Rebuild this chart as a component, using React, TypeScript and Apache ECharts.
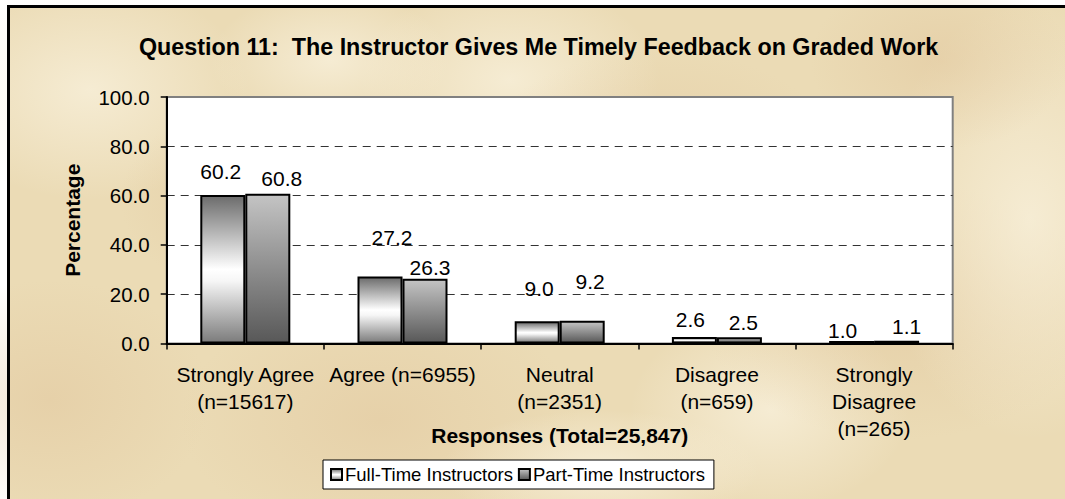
import React, { useEffect, useRef } from "react";
import * as echarts from "echarts";

const chartTitle = "Question 11:  The Instructor Gives Me Timely Feedback on Graded Work";
const categories = [
  "Strongly Agree\n(n=15617)",
  "Agree (n=6955)",
  "Neutral\n(n=2351)",
  "Disagree\n(n=659)",
  "Strongly\nDisagree\n(n=265)",
];
const seriesNames = ["Full-Time Instructors", "Part-Time Instructors"];
const fullTimeValues = [60.2, 27.2, 9.0, 2.6, 1.0];
const partTimeValues = [60.8, 26.3, 9.2, 2.5, 1.1];
const yTicks = { min: 0, max: 100, interval: 20 };
const xAxisTitle = "Responses (Total=25,847)";
const yAxisTitle = "Percentage";

// label nudges (styling only, px) reproducing the original's label placement
const fullTimeLabelNudge = [[-2, -8], [12, -23], [2, -17], [-4, -2], [-9, 5]];
const partTimeLabelNudge = [[14, 0], [5, 4], [8, -24], [4, 1], [10, 1]];

// parchment mottling (decoration only): [cx, cy, rx, ry, light?]
const parchmentSpots = [
  [90, 90, 160, 110, 1],
  [240, 200, 120, 90, 0],
  [380, 420, 200, 120, 0],
  [510, 80, 150, 100, 1],
  [660, 160, 180, 110, 0],
  [770, 410, 140, 100, 1],
  [900, 310, 200, 130, 0],
  [1030, 220, 150, 220, 1],
  [50, 400, 160, 120, 0],
  [940, 60, 130, 90, 0],
  [330, 60, 120, 70, 1],
  [600, 470, 160, 60, 1],
];

const ftGradient = new echarts.graphic.LinearGradient(0, 0, 0, 1, [
  { offset: 0, color: "#6c6c6c" },
  { offset: 0.5, color: "#ffffff" },
  { offset: 0.58, color: "#f6f6f6" },
  { offset: 1, color: "#7c7c7c" },
]);
const ptGradient = new echarts.graphic.LinearGradient(0, 0, 0, 1, [
  { offset: 0, color: "#c4c4c4" },
  { offset: 1, color: "#585858" },
]);

export default function App() {
  const ref = useRef<HTMLDivElement>(null);
  useEffect(() => {
    document.documentElement.style.overflow = "hidden";
    document.body.style.overflow = "hidden";
    if (!ref.current) return;
    const chart = echarts.init(ref.current, undefined, { renderer: "svg" });
    const font = "Arial, 'Liberation Sans', sans-serif";
    const mkData = (vals: number[], nudge: number[][]) =>
      vals.map((v, i) => ({ value: v, label: { offset: nudge[i] } }));
    const labelStyle = {
      show: true,
      position: "top",
      distance: 5,
      fontFamily: font,
      fontSize: 21,
      color: "#000",
      formatter: (p: any) => Number(p.value).toFixed(1),
    };
    const spots = parchmentSpots.map(([cx, cy, rx, ry, light]) => ({
      type: "ellipse",
      z: -10,
      silent: true,
      shape: { cx, cy, rx, ry },
      style: {
        fill: new echarts.graphic.RadialGradient(0.5, 0.5, 0.5, [
          { offset: 0, color: light ? "rgba(250,243,224,0.7)" : "rgba(224,196,154,0.45)" },
          { offset: 1, color: light ? "rgba(250,243,224,0)" : "rgba(224,196,154,0)" },
        ]),
      },
    }));
    chart.setOption({
      animation: false,
      backgroundColor: "#ffffff",
      textStyle: { fontFamily: font, color: "#000" },
      graphic: {
        elements: [
          {
            type: "rect",
            z: -11,
            silent: true,
            shape: { x: 7, y: 5, width: 1058, height: 494 },
            style: { fill: "#ebdbb5" },
          },
          ...spots,
          {
            type: "rect",
            z: -9,
            silent: true,
            shape: { x: 7, y: 5, width: 1058, height: 3 },
            style: { fill: "#000" },
          },
          {
            type: "rect",
            z: -9,
            silent: true,
            shape: { x: 7, y: 5, width: 3, height: 494 },
            style: { fill: "#000" },
          },
        ],
      },
      title: {
        text: chartTitle,
        left: 139,
        top: 35,
        padding: 0,
        textStyle: { fontFamily: font, fontSize: 23.3, fontWeight: "bold", color: "#000" },
      },
      legend: {
        data: seriesNames,
        left: 323,
        top: 460,
        padding: [5, 9, 5, 7],
        itemWidth: 11,
        itemHeight: 11,
        itemGap: 5,
        icon: "rect",
        backgroundColor: "#fff",
        borderColor: "#000",
        borderWidth: 1,
        borderRadius: 0,
        itemStyle: { borderColor: "#000", borderWidth: 2 },
        textStyle: { fontFamily: font, fontSize: 18.5, color: "#000", padding: [0, 0, 0, -2] },
      },
      grid: {
        left: 166.7,
        right: 112.3,
        top: 97,
        bottom: 155.5,
        show: true,
        backgroundColor: "#fff",
        borderColor: "#808080",
        borderWidth: 2,
      },
      xAxis: {
        type: "category",
        data: categories,
        name: xAxisTitle,
        nameLocation: "middle",
        nameGap: 81,
        nameMoveOverlap: false,
        nameTextStyle: { fontFamily: font, fontSize: 21, fontWeight: "bold", color: "#000" },
        axisLine: { lineStyle: { color: "#000", width: 2 } },
        axisTick: { show: true, length: 6, interval: 0, lineStyle: { color: "#000", width: 1.5 } },
        axisLabel: {
          interval: 0,
          margin: 17,
          fontFamily: font,
          fontSize: 21,
          lineHeight: 27,
          color: "#000",
        },
      },
      yAxis: {
        type: "value",
        min: yTicks.min,
        max: yTicks.max,
        interval: yTicks.interval,
        name: yAxisTitle,
        nameLocation: "middle",
        nameGap: 84,
        nameRotate: 90,
        nameMoveOverlap: false,
        nameTextStyle: { fontFamily: font, fontSize: 21, fontWeight: "bold", color: "#000" },
        axisLine: { show: true, lineStyle: { color: "#000", width: 2 } },
        axisTick: { show: true, length: 6, lineStyle: { color: "#000", width: 1.5 } },
        axisLabel: {
          margin: 17,
          fontFamily: font,
          fontSize: 20.5,
          color: "#000",
          formatter: (v: number) => v.toFixed(1),
        },
        splitLine: {
          show: true,
          showMaxLine: false,
          lineStyle: { color: "#333", type: [8, 6], width: 1 },
        },
      },
      series: [
        {
          name: seriesNames[0],
          type: "bar",
          data: mkData(fullTimeValues, fullTimeLabelNudge),
          barWidth: 45,
          barGap: "0%",
          itemStyle: { color: ftGradient, borderColor: "#000", borderWidth: 2 },
          label: labelStyle,
        },
        {
          name: seriesNames[1],
          type: "bar",
          data: mkData(partTimeValues, partTimeLabelNudge),
          barWidth: 45,
          barGap: "0%",
          itemStyle: { color: ptGradient, borderColor: "#000", borderWidth: 2 },
          label: labelStyle,
        },
      ],
    });
    return () => chart.dispose();
  }, []);

  return (
    <div style={{ position: "fixed", left: 0, top: 0, width: 1065, height: 499, background: "#fff", overflow: "hidden" }}>
      <div ref={ref} style={{ position: "absolute", left: 0, top: 0, width: 1065, height: 499 }} />
    </div>
  );
}
